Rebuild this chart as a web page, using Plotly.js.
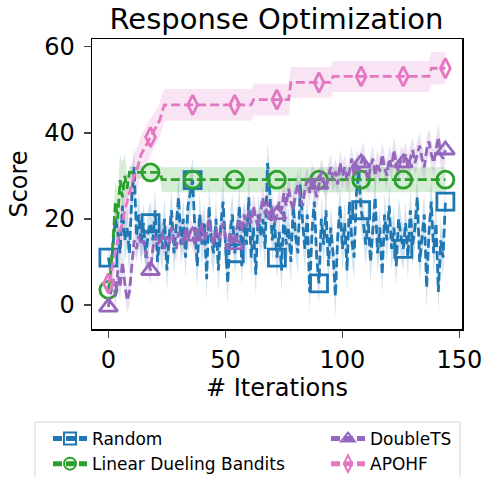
<!DOCTYPE html>
<html><head><meta charset="utf-8">
<script src="https://cdn.plot.ly/plotly-3.0.1.min.js"></script>
<style>html,body{margin:0;padding:0;background:#fff}#chart{width:485px;height:477px}</style>
</head><body><div id="chart"></div>
<script>
// Iterations 0..144
const iterations = Array.from({length: 145}, (_, i) => i);
const markerEvery = 18;

const randomMean = [11,8,14,20,17,12,23,15,18,12,25,32,16,21,14,19,11,17,19,15,
22,10,17,13,20,8,16,22,12,18,25,14,20,11,23,26,29,17,9,21,
14,19,6,23,15,12,20,8,18,24,13,5,17,21,12,16,23,9,19,14,
25,11,18,7,21,16,20,13,33,26,15,19,11,17,8,22,14,18,10,23,
16,12,28,19,13,21,3,17,24,11,5,20,14,22,9,18,12,2,16,23,
13,19,8,24,15,11,26,31,22,19,14,20,10,17,25,12,18,7,21,15,
23,13,18,9,20,16,13,19,11,22,14,18,25,10,16,21,4,17,24,12,
19,3,15,11,24];
const randomStd = [3,3,4,4,5,5,5,5,5,5,5,5,5,5,5,5,5,5,5,5,
5,5,5,5,5,5,5,5,5,5,5,5,5,5,5,5,5,5,5,5,
5,5,5,5,5,5,5,5,5,5,5,5,5,5,5,5,5,5,5,5,
5,5,5,5,5,5,5,5,5,5,5,5,5,5,5,5,5,5,5,5,
5,5,5,5,5,5,5,5,5,5,5,5,5,5,5,5,5,5,5,5,
5,5,5,5,5,5,5,5,5,5,5,5,5,5,5,5,5,5,5,5,
5,5,5,5,5,5,5,5,5,5,5,5,5,5,5,5,5,5,5,5,
5,5,5,5,5];

const ldbMean = [3.5,8,15,24,20,29,25,30,27,30.8,30.8,30.8,30.8,30.8,30.8,30.8,30.8,30.8,30.8,30.8,
30.8,30.8,30.8,29.1,29.1,29.1,29.1,29.1,29.1,29.1,29.1,29.1,29.1,29.1,29.1,29.1,29.1,29.1,29.1,29.1,
29.1,29.1,29.1,29.1,29.1,29.1,29.1,29.1,29.1,29.1,29.1,29.1,29.1,29.1,29.1,29.1,29.1,29.1,29.1,29.1,
29.1,29.1,29.1,29.1,29.1,29.1,29.1,29.1,29.1,29.1,29.1,29.1,29.1,29.1,29.1,29.1,29.1,29.1,29.1,29.1,
29.1,29.1,29.1,29.1,29.1,29.1,29.1,29.1,29.1,29.1,29.1,29.1,29.1,29.1,29.1,29.1,29.1,29.1,29.1,29.1,
29.1,29.1,29.1,29.1,29.1,29.1,29.1,29.1,29.1,29.1,29.1,29.1,29.1,29.1,29.1,29.1,29.1,29.1,29.1,29.1,
29.1,29.1,29.1,29.1,29.1,29.1,29.1,29.1,29.1,29.1,29.1,29.1,29.1,29.1,29.1,29.1,29.1,29.1,29.1,29.1,
29.1,29.1,29.1,29.1,29.1];
const ldbStd = [2,3,4,5,6,6,8,5,3,1.5,1.5,1.5,1.5,1.5,1.5,1.5,1.5,1.5,1.5,1.5,
1.5,1.5,1.5,2.9,2.9,2.9,2.9,2.9,2.9,2.9,2.9,2.9,2.9,2.9,2.9,2.9,2.9,2.9,2.9,2.9,
2.9,2.9,2.9,2.9,2.9,2.9,2.9,2.9,2.9,2.9,2.9,2.9,2.9,2.9,2.9,2.9,2.9,2.9,2.9,2.9,
2.9,2.9,2.9,2.9,2.9,2.9,2.9,2.9,2.9,2.9,2.9,2.9,2.9,2.9,2.9,2.9,2.9,2.9,2.9,2.9,
2.9,2.9,2.9,2.9,2.9,2.9,2.9,2.9,2.9,2.9,2.9,2.9,2.9,2.9,2.9,2.9,2.9,2.9,2.9,2.9,
2.9,2.9,2.9,2.9,2.9,2.9,2.9,2.9,2.9,2.9,2.9,2.9,2.9,2.9,2.9,2.9,2.9,2.9,2.9,2.9,
2.9,2.9,2.9,2.9,2.9,2.9,2.9,2.9,2.9,2.9,2.9,2.9,2.9,2.9,2.9,2.9,2.9,2.9,2.9,2.9,
2.9,2.9,2.9,2.9,2.9];

const doubleTSMean = [-0.5,3,6,2,8,4,10,5,1,3,9,15,13,16,14,15,12,10,8,13,
16,14,15,17,13,16,14,18,15,13,17,16,14,18,15,17,16,14,18,16,
19,15,17,20,16,14,18,15,17,19,16,13,17,15,14,18,20,17,21,18,
22,19,23,20,18,22,25,21,24,20,23,19,21,24,22,26,23,27,24,22,
26,28,25,23,27,29,26,30,28,25,28,31,29,27,30,32,29,31,28,33,
30,32,29,31,34,30,33,31,33,35,31,29,32,34,30,33,31,35,32,30,
34,32,36,33,31,34,33,35,32,34,36,33,35,37,34,32,36,38,35,33,
36,39,35,34,36];
const doubleTSStd = [2,2,3,3,3,3,3,3,3,3,3,3,3,3,3,3,3,3,3,3,
3,3,3,3,3,3,3,3,3,3,3,3,3,3,3,3,3,3,3,3,
3,3,3,3,3,3,3,3,3,3,3,3,3,3,3,3,3,3,3,3,
3,3,3,3,3,3,3,3,3,3,3,3,3,3,3,3,3,3,3,3,
3,3,3,3,3,3,3,3,3,3,3,3,3,3,3,3,3,3,3,3,
3,3,3,3,3,3,3,3,3,3,3,3,3,3,3,3,3,3,3,3,
3,3,3,3,3,3,3,3,3,3,3,3,3,3,3,3,3,3,3,3,
3,3,3,3,3];

const apohfMean = [5,7,10,12,15,17,19,22,24,26,28,30,31,33,35,36,37,38,39,40,
41,42,43,45,46.5,46.5,46.5,46.5,46.5,46.5,46.5,46.5,46.5,46.5,46.5,46.5,46.5,46.5,46.5,46.5,
46.5,46.5,46.5,46.5,46.5,46.5,46.5,46.5,46.5,46.5,46.5,46.5,46.5,46.5,46.5,46.5,46.5,46.5,46.5,46.5,
46.5,46.5,47.7,47.7,47.7,47.7,47.7,47.7,47.7,47.7,47.7,47.7,47.7,47.7,47.7,47.7,47.7,47.7,51.7,51.7,
51.7,51.7,51.7,51.7,51.7,51.7,51.7,51.7,51.7,51.7,51.7,51.7,51.7,51.7,51.7,51.7,53.1,53.1,53.1,53.1,
53.1,53.1,53.1,53.1,53.1,53.1,53.1,53.1,53.1,53.1,53.1,53.1,53.1,53.1,53.1,53.1,53.1,53.1,53.1,53.1,
53.1,53.1,53.1,53.1,53.1,53.1,53.1,53.1,53.1,53.1,53.1,53.1,53.1,53.1,53.1,53.1,53.1,53.1,55,55,
55,55,55,55,55];
const apohfStd = [2,3,3,4,4,5,5,5,5,5,5,5,5,5,4.5,4.5,4.5,4.5,4.5,4,
4,4,4,4,3.7,3.7,3.7,3.7,3.7,3.7,3.7,3.7,3.7,3.7,3.7,3.7,3.7,3.7,3.7,3.7,
3.7,3.7,3.7,3.7,3.7,3.7,3.7,3.7,3.7,3.7,3.7,3.7,3.7,3.7,3.7,3.7,3.7,3.7,3.7,3.7,
3.7,3.7,3.7,3.7,3.7,3.7,3.7,3.7,3.7,3.7,3.7,3.7,3.7,3.7,3.7,3.7,3.7,3.7,3.6,3.6,
3.6,3.6,3.6,3.6,3.6,3.6,3.6,3.6,3.6,3.6,3.6,3.6,3.6,3.6,3.6,3.6,3.6,3.6,3.6,3.6,
3.6,3.6,3.6,3.6,3.6,3.6,3.6,3.6,3.6,3.6,3.6,3.6,3.6,3.6,3.6,3.6,3.6,3.6,3.6,3.6,
3.6,3.6,3.6,3.6,3.6,3.6,3.6,3.6,3.6,3.6,3.6,3.6,3.6,3.6,3.6,3.6,3.6,3.6,3.8,3.8,
3.8,3.8,3.8,3.8,3.8];

const series = [
  {name: 'Random', mean: randomMean, std: randomStd, color: '#1f77b4', fill: 'rgba(31,119,180,0.2)', symbol: 'square-open', size: 17, legend: 'legend'},
  {name: 'Linear Dueling Bandits', mean: ldbMean, std: ldbStd, color: '#2ca02c', fill: 'rgba(44,160,44,0.2)', symbol: 'circle-open', size: 17, legend: 'legend'},
  {name: 'DoubleTS', mean: doubleTSMean, std: doubleTSStd, color: '#9467bd', fill: 'rgba(148,103,189,0.2)', symbol: 'triangle-up-open', size: 16, legend: 'legend2'},
  {name: 'APOHF', mean: apohfMean, std: apohfStd, color: '#e377c2', fill: 'rgba(227,119,194,0.2)', symbol: 'diamond-tall-open', size: 14, legend: 'legend2'}
];

const traces = [];
series.forEach(s => {
  const lower = s.mean.map((m, i) => m - s.std[i]);
  const upper = s.mean.map((m, i) => m + s.std[i]);
  traces.push({x: iterations, y: lower, mode: 'lines', line: {width: 0, color: s.fill}, showlegend: false, hoverinfo: 'skip'});
  traces.push({x: iterations, y: upper, mode: 'lines', line: {width: 0, color: s.fill}, fill: 'tonexty', fillcolor: s.fill, showlegend: false, hoverinfo: 'skip'});
});
series.forEach(s => {
  traces.push({
    x: iterations, y: s.mean, name: s.name, mode: 'lines+markers', legend: s.legend,
    line: {color: s.color, width: 2.8, dash: '9px,4px'},
    marker: {symbol: s.symbol, color: s.color, opacity: 1, size: iterations.map(i => i % markerEvery === 0 ? s.size : 0), line: {width: 2.8, color: s.color}}
  });
});

// pixel helpers for the legend frame (plot area: x 92..462, y 39..329)
const px2x = p => (p - 92) / 370;
const px2y = p => (329 - p) / 290;

const legendCommon = {orientation: 'v', traceorder: 'normal', xanchor: 'left', yanchor: 'top', bgcolor: 'rgba(0,0,0,0)', borderwidth: 0, font: {size: 17, color: '#000'}, itemsizing: 'constant', itemwidth: 34};

const layout = {
  width: 485, height: 477,
  margin: {l: 92, r: 23, t: 39, b: 148, autoexpand: false},
  paper_bgcolor: '#fff', plot_bgcolor: '#fff',
  font: {family: 'DejaVu Sans', color: '#000'},
  title: {text: 'Response Optimization', font: {size: 29, color: '#000'}, x: 0.57, xanchor: 'center', yref: 'container', y: 0.96, yanchor: 'middle'},
  xaxis: {range: [-7, 151.1], tickvals: [0, 50, 100, 150], ticks: 'outside', ticklen: 7, tickwidth: 1.5, showline: true, linewidth: 1.5, linecolor: '#000', mirror: true, showgrid: false, zeroline: false, tickfont: {size: 24}, ticklabelstandoff: 2,
    title: {text: '# Iterations', font: {size: 24}, standoff: 6}},
  yaxis: {range: [-5.6, 61.8], tickvals: [0, 20, 40, 60], ticks: 'outside', ticklen: 7, tickwidth: 1.5, showline: true, linewidth: 1.5, linecolor: '#000', mirror: true, showgrid: false, zeroline: false, tickfont: {size: 24}, ticklabelstandoff: 4,
    title: {text: 'Score', font: {size: 24}, standoff: 10}},
  showlegend: true,
  legend: Object.assign({}, legendCommon, {x: px2x(48), y: px2y(421)}),
  legend2: Object.assign({}, legendCommon, {x: px2x(326), y: px2y(421)}),
  shapes: [{type: 'rect', xref: 'paper', yref: 'paper', x0: px2x(35), x1: px2x(460), y0: px2y(422), y1: px2y(480), line: {color: '#d4d4d4', width: 1}, fillcolor: 'rgba(0,0,0,0)', layer: 'above'}]
};

Plotly.newPlot('chart', traces, layout, {displayModeBar: false, staticPlot: true});
</script></body></html>
